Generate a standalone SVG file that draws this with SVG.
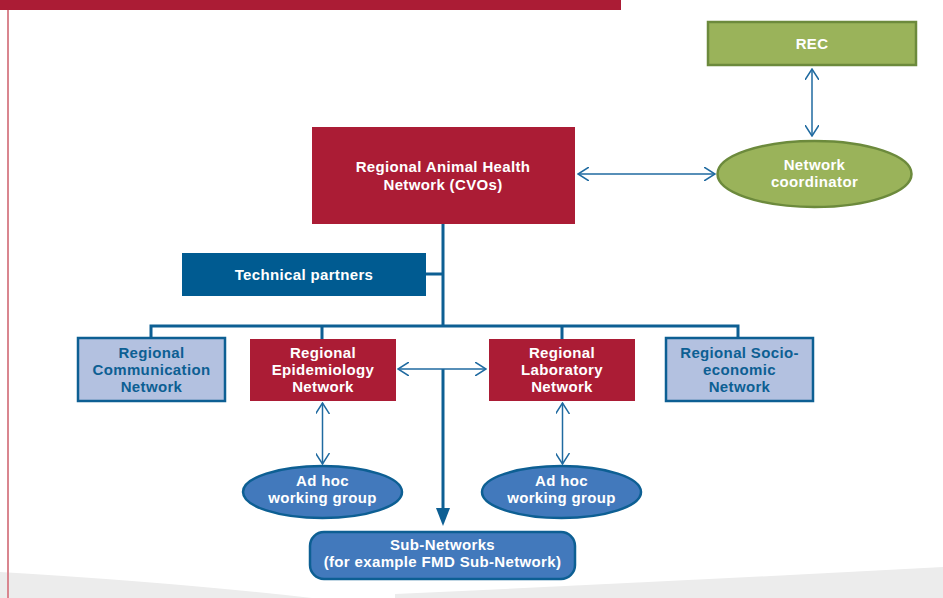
<svg xmlns="http://www.w3.org/2000/svg" width="943" height="598" viewBox="0 0 943 598">
<defs>
<marker id="open" viewBox="0 0 12 14" refX="11" refY="7" markerWidth="12" markerHeight="14" markerUnits="userSpaceOnUse" orient="auto-start-reverse">
<path d="M0,0 L11,7 L0,14" fill="none" stroke="#1f6aa0" stroke-width="1.5"/>
</marker>
<marker id="solid" viewBox="0 0 18 14" refX="4" refY="7" markerWidth="18" markerHeight="14" markerUnits="userSpaceOnUse" orient="auto">
<path d="M0,0 L18,7 L0,14 Z" fill="#0d5f93"/>
</marker>
<style>
text{font-family:"Liberation Sans",Arial,sans-serif;font-weight:bold;font-size:15px;letter-spacing:0.35px;text-anchor:middle}
.w{fill:#ffffff}
.b{fill:#0d5f93}
.red{fill:#ab1c35}
.light{fill:#b3c1e0;stroke:#0d5f93;stroke-width:2.5}
.oval{fill:#4279bc;stroke:#0d5f93;stroke-width:2.5}
.green{fill:#9ab35a;stroke:#6c8a3c;stroke-width:2.5}
.bus{fill:none;stroke:#0d5f93;stroke-width:3}
.arr{fill:none;stroke:#1f6aa0;stroke-width:1.5;marker-start:url(#open);marker-end:url(#open)}
</style>
</defs>
<g id="background">
<path d="M0,572 Q170,582 312,598 L0,598 Z" fill="#ececec"/>
<path d="M395,594 Q700,580 943,567 L943,598 L395,598 Z" fill="#ececec"/>
<rect x="0" y="0" width="621" height="10" fill="#ab1c35"/>
<rect x="7" y="10" width="2" height="588" fill="#d9868f"/>
</g>
<g id="connectors">
<path class="bus" d="M443,224 V326 M443,274 H426 M151,337 V326 H738 V337 M322,326 V339 M562,326 V339"/>
<line x1="443" y1="369" x2="443" y2="512" stroke="#0d5f93" stroke-width="3" marker-end="url(#solid)"/>
<line class="arr" x1="398" y1="369" x2="486" y2="369"/>
<line class="arr" x1="578" y1="174" x2="715" y2="174"/>
<line class="arr" x1="812" y1="69" x2="812" y2="136"/>
<line class="arr" x1="322.5" y1="403" x2="322.5" y2="464"/>
<line class="arr" x1="562.5" y1="403" x2="562.5" y2="464"/>
</g>
<g id="rec">
<rect class="green" x="708" y="22" width="208" height="43"/>
<text class="w" x="812" y="49">REC</text>
</g>
<g id="coordinator">
<ellipse class="green" cx="814.5" cy="174" rx="97" ry="33"/>
<text class="w" x="814.5" y="170">Network</text>
<text class="w" x="814.5" y="187">coordinator</text>
</g>
<g id="rahn">
<rect class="red" x="312" y="127" width="263" height="97"/>
<text class="w" x="443" y="172">Regional Animal Health</text>
<text class="w" x="443" y="190">Network (CVOs)</text>
</g>
<g id="technical">
<rect x="182" y="253" width="244" height="43" fill="#005b91"/>
<text class="w" x="304" y="280">Technical partners</text>
</g>
<g id="communication">
<rect class="light" x="78" y="338" width="147" height="63"/>
<text class="b" x="151.5" y="358">Regional</text>
<text class="b" x="151.5" y="375">Communication</text>
<text class="b" x="151.5" y="392">Network</text>
</g>
<g id="epidemiology">
<rect class="red" x="250" y="339" width="146" height="62"/>
<text class="w" x="323" y="358">Regional</text>
<text class="w" x="323" y="375">Epidemiology</text>
<text class="w" x="323" y="392">Network</text>
</g>
<g id="laboratory">
<rect class="red" x="489" y="339" width="146" height="62"/>
<text class="w" x="562" y="358">Regional</text>
<text class="w" x="562" y="375">Laboratory</text>
<text class="w" x="562" y="392">Network</text>
</g>
<g id="socioeconomic">
<rect class="light" x="666" y="338" width="147" height="63"/>
<text class="b" x="739.5" y="358">Regional Socio-</text>
<text class="b" x="739.5" y="375">economic</text>
<text class="b" x="739.5" y="392">Network</text>
</g>
<g id="adhoc1">
<ellipse class="oval" cx="322.5" cy="492" rx="79.5" ry="26"/>
<text class="w" x="322.5" y="486">Ad hoc</text>
<text class="w" x="322.5" y="503">working group</text>
</g>
<g id="adhoc2">
<ellipse class="oval" cx="561.5" cy="492" rx="79.5" ry="26"/>
<text class="w" x="561.5" y="486">Ad hoc</text>
<text class="w" x="561.5" y="503">working group</text>
</g>
<g id="subnetworks">
<rect class="oval" x="310" y="532" width="265" height="47" rx="14"/>
<text class="w" x="442.5" y="550">Sub-Networks</text>
<text class="w" x="442.5" y="567">(for example FMD Sub-Network)</text>
</g>
</svg>
